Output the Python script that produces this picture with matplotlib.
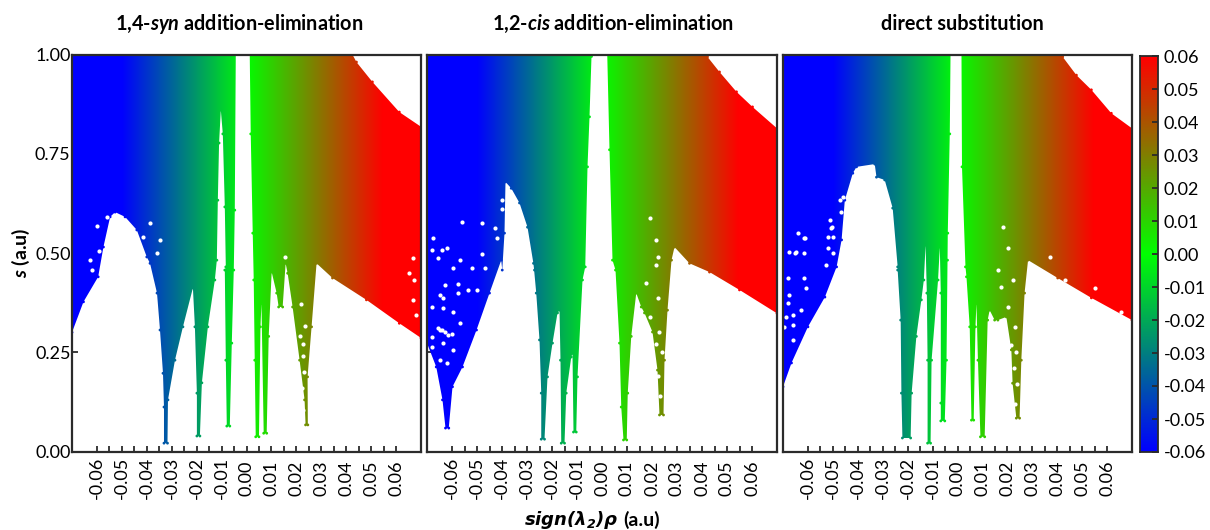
import numpy as np
import matplotlib
matplotlib.use('Agg')
from matplotlib import pyplot as plt
from matplotlib.colors import LinearSegmentedColormap, TwoSlopeNorm, Normalize
from matplotlib.path import Path
from matplotlib.patches import PathPatch

plt.rcParams['font.family'] = ['Lato', 'DejaVu Sans']
plt.rcParams['mathtext.fontset'] = 'custom'
plt.rcParams['mathtext.bfit'] = 'Lato:italic:bold'
plt.rcParams['mathtext.bf'] = 'Lato:bold'
plt.rcParams['mathtext.rm'] = 'Lato'
plt.rcParams['mathtext.it'] = 'Lato:italic'

# outlines of the point clouds (sign(l2)rho, s)
# 1,4-syn
syn_left_x = [-0.07, -0.07, -0.0654, -0.0595, -0.0574, -0.0547, -0.0527, -0.0487, -0.044, -0.04, -0.0387, -0.0359,
              -0.0347, -0.0335, -0.0331, -0.0331, -0.0317, -0.0315, -0.0287, -0.0255, -0.0215, -0.0207, -0.0199,
              -0.0199, -0.0187, -0.0179, -0.0155, -0.0127, -0.0119, -0.0115, -0.011, -0.0103, -0.0095, -0.0087,
              -0.0083, -0.0087, -0.0083, -0.0079, -0.0067, -0.0059, -0.0051, -0.0047, -0.0043]
syn_left_s = [1.0, 0.30, 0.377, 0.44, 0.515, 0.591, 0.603, 0.591, 0.558, 0.49, 0.474, 0.399,
              0.306, 0.197, 0.112, 0.021, 0.021, 0.13, 0.23, 0.314, 0.412, 0.314, 0.147,
              0.039, 0.039, 0.173, 0.314, 0.432, 0.482, 0.633, 0.777, 0.86, 0.80, 0.616,
              0.465, 0.457, 0.23, 0.064, 0.064, 0.273, 0.457, 0.608, 1.0]
syn_right_x = [0.0013, 0.0017, 0.0025, 0.0029, 0.0033, 0.0037, 0.005, 0.0056, 0.006, 0.0069, 0.0081, 0.0089, 0.0101,
               0.0121, 0.0129, 0.0145, 0.0157, 0.0165, 0.0185, 0.0213, 0.0233, 0.0237, 0.0246, 0.0245, 0.0261, 0.0281,
               0.0345, 0.0481, 0.0613, 0.07, 0.07, 0.0613, 0.0505, 0.0441, 0.0425]
syn_right_s = [1.0, 0.80, 0.55, 0.432, 0.23, 0.037, 0.037, 0.314, 0.373, 0.046, 0.046, 0.29, 0.452,
               0.399, 0.364, 0.364, 0.474, 0.449, 0.364, 0.23, 0.13, 0.067, 0.067, 0.188, 0.314, 0.474,
               0.437, 0.382, 0.323, 0.286, 0.818, 0.855, 0.931, 0.981, 1.0]
syn_holes_x = [-0.056, -0.06, -0.0593, -0.0627, -0.0621, -0.0414, -0.0387, -0.0347, -0.036, 0.0666, 0.0653, 0.0673,
               0.0666, 0.068, 0.0219, 0.0233, 0.0226, 0.0153, 0.0225, 0.0215, 0.0231, 0.0222, 0.0228]
syn_holes_s = [0.591, 0.567, 0.504, 0.483, 0.457, 0.541, 0.575, 0.532, 0.499, 0.487, 0.449, 0.432,
               0.382, 0.344, 0.372, 0.315, 0.272, 0.49, 0.24, 0.29, 0.2, 0.16, 0.105]

# 1,2-cis
cis_left_x = [-0.07, -0.07, -0.0663, -0.0638, -0.0626, -0.0613, -0.0598, -0.0558, -0.0502, -0.045, -0.0403, -0.0399,
              -0.039, -0.0386, -0.0363, -0.033, -0.0298, -0.027, -0.0274, -0.0263, -0.025, -0.0243, -0.0243, -0.023,
              -0.0218, -0.0198, -0.0178, -0.017, -0.0166, -0.0163, -0.015, -0.0143, -0.0123, -0.0118, -0.0114,
              -0.0103, -0.0098, -0.0078, -0.0067, -0.0058, -0.005, -0.0042, -0.0042]
cis_left_s = [1.0, 0.273, 0.213, 0.13, 0.059, 0.059, 0.163, 0.213, 0.306, 0.399, 0.482, 0.457,
              0.55, 0.679, 0.663, 0.626, 0.565, 0.457, 0.474, 0.399, 0.281, 0.147, 0.031, 0.031,
              0.188, 0.273, 0.349, 0.356, 0.23, 0.021, 0.021, 0.147, 0.238, 0.247, 0.049,
              0.049, 0.188, 0.432, 0.465, 0.717, 0.843, 0.995, 1.0]
cis_right_x = [0.0021, 0.003, 0.0042, 0.0054, 0.007, 0.0077, 0.0086, 0.0099, 0.0103, 0.0117, 0.0137, 0.0157, 0.017,
               0.0202, 0.0222, 0.023, 0.0246, 0.025, 0.0262, 0.0278, 0.029, 0.035, 0.043, 0.055, 0.07, 0.07,
               0.0602, 0.0538, 0.047, 0.0422, 0.0415]
cis_right_s = [1.0, 0.76, 0.482, 0.457, 0.273, 0.112, 0.029, 0.029, 0.147, 0.29, 0.399, 0.364, 0.349,
               0.301, 0.205, 0.092, 0.092, 0.23, 0.356, 0.482, 0.515, 0.474, 0.452, 0.407, 0.348, 0.814,
               0.868, 0.906, 0.956, 0.994, 1.0]
cis_holes_x = [-0.0402, -0.0402, -0.0429, -0.0422, -0.0482, -0.0562, -0.0622, -0.0595, -0.0569, -0.0522, -0.0482,
               -0.0642, -0.0675, -0.0682, -0.0655, -0.0629, -0.0575, -0.0649, -0.0635, -0.0575, -0.0682, -0.0635,
               -0.0595, -0.0569, -0.0649, -0.0602, -0.0682, -0.0635, -0.0595, -0.0649, -0.0622, -0.0682, -0.0535,
               -0.0502, -0.0469, -0.0655, -0.0642, -0.0629, -0.0615,
               0.0217, 0.019, 0.0223, 0.0217, 0.0177, 0.0223, 0.019, 0.0228, 0.0215, 0.0238, 0.0222, 0.0232]
cis_holes_s = [0.633, 0.612, 0.562, 0.537, 0.575, 0.579, 0.512, 0.461, 0.482, 0.461, 0.498,
               0.508, 0.537, 0.508, 0.487, 0.419, 0.423, 0.394, 0.386, 0.399, 0.365, 0.361,
               0.352, 0.323, 0.306, 0.296, 0.289, 0.273, 0.256, 0.231, 0.223, 0.264, 0.407,
               0.407, 0.461, 0.31, 0.305, 0.3, 0.293,
               0.533, 0.588, 0.491, 0.47, 0.424, 0.386, 0.34, 0.3, 0.27, 0.25, 0.19, 0.14]

# direct substitution
sub_left_x = [-0.07, -0.07, -0.0666, -0.06, -0.0532, -0.0485, -0.0465, -0.0452, -0.042, -0.0405, -0.0332, -0.0325,
              -0.0292, -0.026, -0.024, -0.024, -0.0228, -0.0225, -0.0221, -0.0188, -0.0184, -0.0165, -0.0145, -0.0135,
              -0.0128, -0.0123, -0.012, -0.012, -0.0108, -0.0104, -0.0078, -0.0071, -0.0067, -0.0067, -0.0067,
              -0.0051, -0.0044, -0.004, -0.0039, -0.0031, -0.0028]
sub_left_s = [1.0, 0.163, 0.223, 0.314, 0.389, 0.465, 0.533, 0.633, 0.701, 0.717, 0.724, 0.691,
              0.684, 0.613, 0.465, 0.457, 0.331, 0.147, 0.034, 0.034, 0.147, 0.29, 0.382, 0.432,
              0.52, 0.399, 0.23, 0.021, 0.021, 0.23, 0.432, 0.515, 0.399, 0.122, 0.077,
              0.077, 0.23, 0.482, 0.55, 0.80, 1.0]
sub_right_x = [0.0016, 0.0018, 0.0032, 0.0036, 0.0049, 0.0056, 0.0065, 0.0072, 0.0076, 0.0082, 0.0092, 0.0109, 0.0121,
               0.0129, 0.0149, 0.0162, 0.0196, 0.0216, 0.0221, 0.0236, 0.0249, 0.0256, 0.0269, 0.0283, 0.0402, 0.0537,
               0.07, 0.07, 0.0617, 0.0537, 0.0477, 0.0422, 0.0415]
sub_right_s = [1.0, 0.717, 0.465, 0.44, 0.314, 0.079, 0.079, 0.314, 0.373, 0.23, 0.037, 0.037, 0.331,
               0.356, 0.331, 0.331, 0.339, 0.256, 0.172, 0.084, 0.084, 0.23, 0.399, 0.482, 0.437, 0.387,
               0.331, 0.814, 0.852, 0.911, 0.948, 0.994, 1.0]
sub_holes_x = [-0.046, -0.0467, -0.0513, -0.0507, -0.05, -0.052, -0.05, -0.0527, -0.0641, -0.0614, -0.0674, -0.0647,
               -0.0614, -0.0681, -0.0614, -0.0607, -0.0674, -0.0681, -0.0627, -0.066, -0.0687, -0.066, -0.0694,
               -0.066, -0.0505, -0.0519, -0.0472, -0.0652, -0.0612,
               0.0176, 0.0203, 0.0163, 0.0223, 0.0229, 0.0216, 0.0203, 0.0183, 0.037, 0.043, 0.055, 0.0657,
               0.0235, 0.0225, 0.0238, 0.0232]
sub_holes_s = [0.642, 0.604, 0.583, 0.562, 0.541, 0.512, 0.499, 0.47, 0.55, 0.537, 0.503, 0.503,
               0.499, 0.436, 0.436, 0.411, 0.394, 0.373, 0.356, 0.344, 0.34, 0.318, 0.314,
               0.281, 0.566, 0.541, 0.634, 0.499, 0.537,
               0.415, 0.365, 0.457, 0.432, 0.314, 0.268, 0.512, 0.566, 0.489, 0.432, 0.411, 0.352,
               0.25, 0.21, 0.17, 0.12]

x_major = [-0.06, -0.05, -0.04, -0.03, -0.02, -0.01, 0.0, 0.01, 0.02, 0.03, 0.04, 0.05, 0.06]
x_minor = [-0.055, -0.045, -0.035, -0.025, -0.015, -0.005, 0.005, 0.015, 0.025, 0.035, 0.045, 0.055]
s_ticks = [0.0, 0.25, 0.5, 0.75, 1.0]
bar_ticks = [-0.06, -0.05, -0.04, -0.03, -0.02, -0.01, 0.0, 0.01, 0.02, 0.03, 0.04, 0.05, 0.06]

W, H = 1210, 530
DARK = '#2b2b2b'
cmap = LinearSegmentedColormap.from_list('bgr', ['#0000ff', '#00ff00', '#ff0000'])
panel_norm = TwoSlopeNorm(vmin=-0.05, vcenter=0.0, vmax=0.055)
bar_norm = Normalize(-0.06, 0.06)


def px_axes(left, top, right, bottom):
    return fig.add_axes([left / W, 1 - bottom / H, (right - left) / W, (bottom - top) / H])


def outline(xs, ss):
    return Path(list(zip(xs, ss)) + [(xs[0], ss[0])], closed=True)


def draw_panel(ax, left, right, holes):
    # colour follows x, the cloud outline cuts the gradient
    grid = np.linspace(-0.07, 0.07, 700).reshape(1, -1)
    im = ax.imshow(grid, cmap=cmap, norm=panel_norm, extent=(-0.07, 0.07, 0, 1), aspect='auto', zorder=2,
                   interpolation='bilinear')
    clip = Path.make_compound_path(outline(*left), outline(*right))
    im.set_clip_path(PathPatch(clip, transform=ax.transData))
    # small round points on the outline, the cloud edge is made of dots
    for xs, ss in (left, right):
        ax.scatter(xs, ss, s=4, c=xs, cmap=cmap, norm=panel_norm, linewidths=0, zorder=2.5)
    ax.scatter(holes[0], holes[1], s=9, c='white', linewidths=0, zorder=3)
    ax.set_xlim(-0.07, 0.07)
    ax.set_ylim(0, 1)
    ax.set_axisbelow(True)
    ax.set_xticks(x_major)
    ax.set_xticks(x_minor, minor=True)
    ax.set_xticklabels(['%.2f' % v for v in x_major], rotation=90, va='center', ha='center')
    ax.set_yticks(s_ticks)
    ax.set_yticklabels(['%.2f' % v for v in s_ticks])
    ax.tick_params(axis='x', which='both', direction='in', length=4.5, width=1.3, color=DARK)
    ax.tick_params(axis='x', which='major', labelsize=13, pad=19)
    ax.tick_params(axis='y', direction='in', length=4.5, width=1.3, color=DARK, labelsize=13, pad=1)
    for sp in ax.spines.values():
        sp.set_linewidth(1.6)
        sp.set_color(DARK)
        sp.set_zorder(4)


fig = plt.figure(figsize=(W / 100, H / 100), dpi=100)

ax1 = px_axes(72, 54.5, 421, 451.5)
ax2 = px_axes(427, 54.5, 777, 451.5)
ax3 = px_axes(783, 54.5, 1132, 451.5)
draw_panel(ax1, (syn_left_x, syn_left_s), (syn_right_x, syn_right_s), (syn_holes_x, syn_holes_s))
draw_panel(ax2, (cis_left_x, cis_left_s), (cis_right_x, cis_right_s), (cis_holes_x, cis_holes_s))
draw_panel(ax3, (sub_left_x, sub_left_s), (sub_right_x, sub_right_s), (sub_holes_x, sub_holes_s))
ax2.tick_params(axis='y', labelleft=False)
ax3.tick_params(axis='y', labelleft=False)

# colour bar
cax = px_axes(1140, 56, 1158, 452)
cax.imshow(np.linspace(-0.06, 0.06, 400).reshape(-1, 1), cmap=cmap, norm=bar_norm, origin='lower',
           extent=(0, 1, -0.06, 0.06), aspect='auto')
cax.set_xticks([])
cax.yaxis.tick_right()
cax.set_yticks(bar_ticks)
cax.set_yticklabels(['%.2f' % v for v in bar_ticks])
cax.tick_params(axis='y', direction='in', length=4.5, width=1.3, color=DARK, labelsize=13, pad=4)
for sp in cax.spines.values():
    sp.set_linewidth(1.3)
    sp.set_color(DARK)

# titles and axis names
fig.text(239.5 / W, 1 - 24 / H, r'1,4-$\mathbfit{syn}$ addition-elimination', fontsize=14.3, fontweight='bold',
         ha='center', va='center')
fig.text(612.5 / W, 1 - 24 / H, r'1,2-$\mathbfit{cis}$ addition-elimination', fontsize=14.3, fontweight='bold',
         ha='center', va='center')
fig.text(962.5 / W, 1 - 24 / H, 'direct substitution', fontsize=14.3, fontweight='bold', ha='center', va='center')
fig.text(21 / W, 1 - 253 / H, r'$\mathbfit{s}$ (a.u)', fontsize=14, fontweight='bold', rotation=90,
         ha='center', va='center')
fig.text(618 / W, 1 - 520 / H, r'$\mathbfit{sign(\lambda_2)\rho}$', fontsize=13, fontweight='bold',
         ha='right', va='center', math_fontfamily='dejavusans')
fig.text(623 / W, 1 - 520 / H, '(a.u)', fontsize=14, fontweight='bold', ha='left', va='center')

fig.savefig('out.png', dpi=100)
